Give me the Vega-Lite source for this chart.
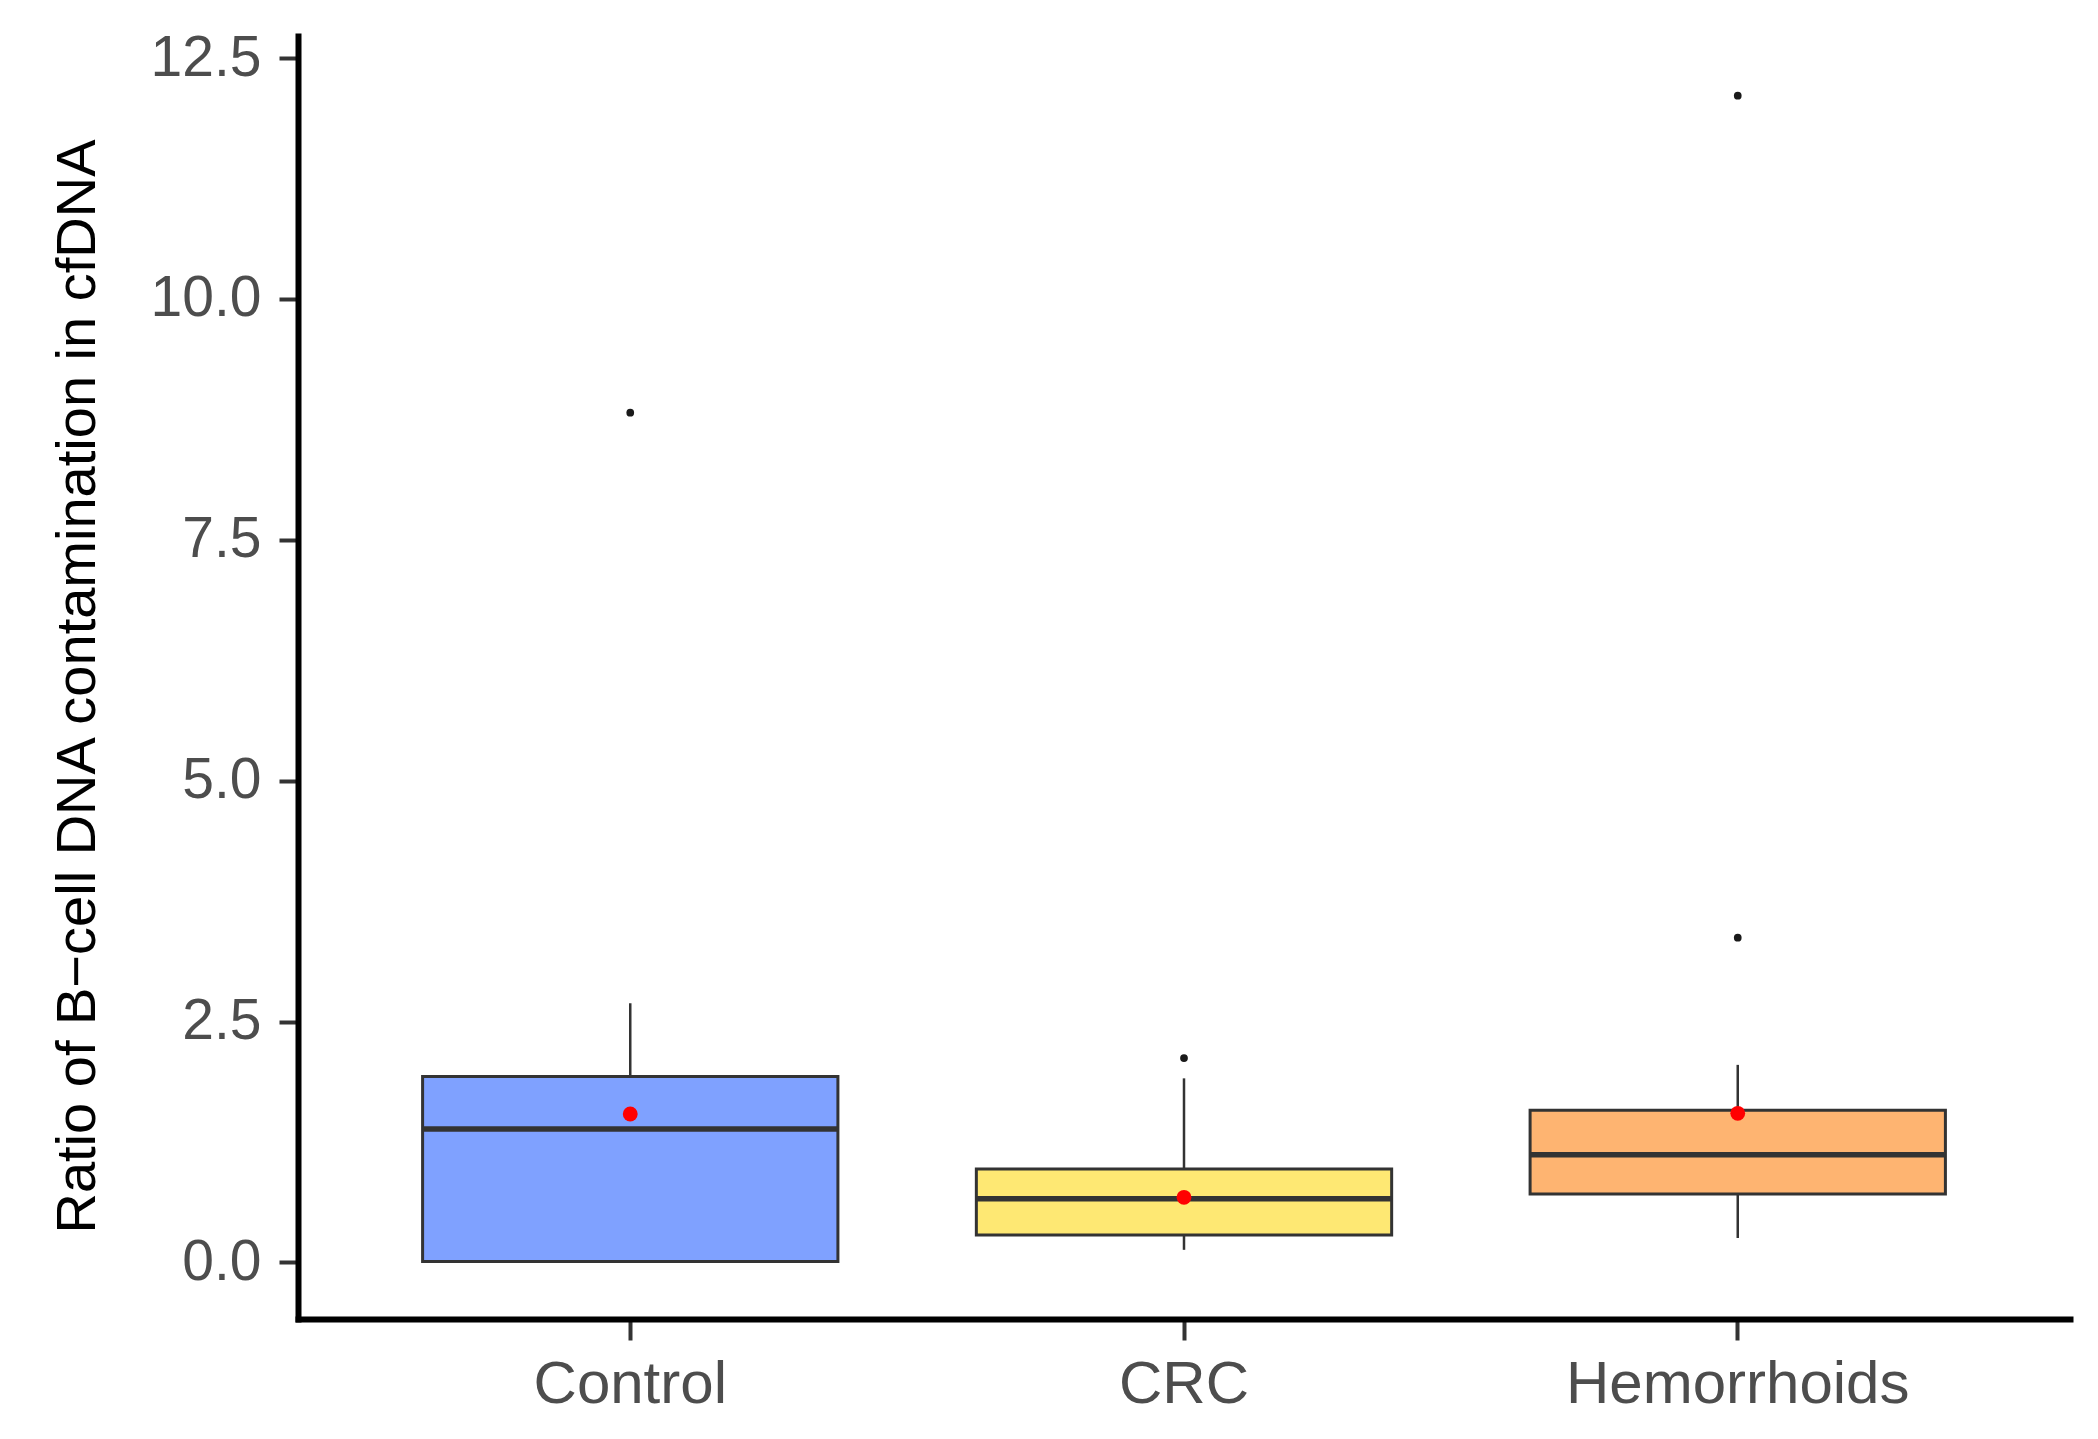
{
  "$schema": "https://vega.github.io/schema/vega-lite/v6.json",
  "width": 1772,
  "height": 1283,
  "autosize": {"type": "none"},
  "padding": {"left": 298, "top": 36, "right": 28, "bottom": 120},
  "background": "white",
  "config": {"view": {"stroke": null}, "font": "Liberation Sans"},
  "datasets": {
    "summary": [
      {"group": "Control", "lower": 0.01, "q1": 0.01, "median": 1.385, "q3": 1.93, "upper": 2.69, "mean": 1.54},
      {"group": "CRC", "lower": 0.13, "q1": 0.285, "median": 0.66, "q3": 0.97, "upper": 1.91, "mean": 0.675},
      {"group": "Hemorrhoids", "lower": 0.253, "q1": 0.71, "median": 1.118, "q3": 1.58, "upper": 2.05, "mean": 1.547}
    ],
    "outliers": [
      {"group": "Control", "value": 8.82},
      {"group": "CRC", "value": 2.12},
      {"group": "Hemorrhoids", "value": 3.37},
      {"group": "Hemorrhoids", "value": 12.11}
    ]
  },
  "encoding": {
    "x": {
      "field": "group",
      "type": "nominal",
      "sort": ["Control", "CRC", "Hemorrhoids"],
      "scale": {"type": "band", "paddingInner": 0.25, "paddingOuter": 0.225},
      "axis": {
        "title": null,
        "labelAngle": 0,
        "labelFontSize": 60,
        "labelLimit": 0,
        "labelColor": "#4D4D4D",
        "labelPadding": 15,
        "tickSize": 21,
        "tickWidth": 4,
        "tickColor": "#333333",
        "domainColor": "#000000",
        "domainWidth": 6,
        "domainCap": "square",
        "grid": false
      }
    }
  },
  "layer": [
    {
      "data": {"name": "summary"},
      "mark": {"type": "rule", "color": "#333333", "strokeWidth": 2.5},
      "encoding": {
        "y": {
          "field": "lower",
          "type": "quantitative",
          "scale": {"domain": [-0.588, 12.73], "nice": false, "zero": false},
          "axis": {
            "values": [0, 2.5, 5, 7.5, 10, 12.5],
            "format": ".1f",
            "labelFontSize": 57,
            "labelLimit": 0,
            "labelColor": "#4D4D4D",
            "labelPadding": 18,
            "tickSize": 19,
            "tickWidth": 4,
            "tickColor": "#333333",
            "domainColor": "#000000",
            "domainWidth": 6,
            "domainCap": "square",
            "grid": false,
            "title": "Ratio of B−cell DNA contamination in cfDNA",
            "titleFontSize": 56,
            "titleFontWeight": "normal",
            "titleColor": "#000000",
            "titleAngle": -90,
            "titleX": -204,
            "titleY": 650,
            "titleLimit": 0,
            "titleBaseline": "alphabetic",
            "titleAlign": "center"
          }
        },
        "y2": {"field": "upper"}
      }
    },
    {
      "data": {"name": "summary"},
      "mark": {"type": "bar", "stroke": "#333333", "strokeWidth": 3},
      "encoding": {
        "y": {"field": "q1", "type": "quantitative"},
        "y2": {"field": "q3"},
        "fill": {
          "field": "group",
          "type": "nominal",
          "scale": {"domain": ["Control", "CRC", "Hemorrhoids"], "range": ["#7FA1FF", "#FEE873", "#FEB471"]},
          "legend": null
        }
      }
    },
    {
      "data": {"name": "summary"},
      "mark": {"type": "tick", "size": 415, "thickness": 5.5, "color": "#333333", "opacity": 1},
      "encoding": {
        "y": {"field": "median", "type": "quantitative"}
      }
    },
    {
      "data": {"name": "summary"},
      "mark": {"type": "point", "filled": true, "size": 220, "color": "#FF0000", "opacity": 1},
      "encoding": {
        "y": {"field": "mean", "type": "quantitative"}
      }
    },
    {
      "data": {"name": "outliers"},
      "mark": {"type": "point", "filled": true, "size": 60, "color": "#1A1A1A", "opacity": 1},
      "encoding": {
        "y": {"field": "value", "type": "quantitative"}
      }
    }
  ]
}
